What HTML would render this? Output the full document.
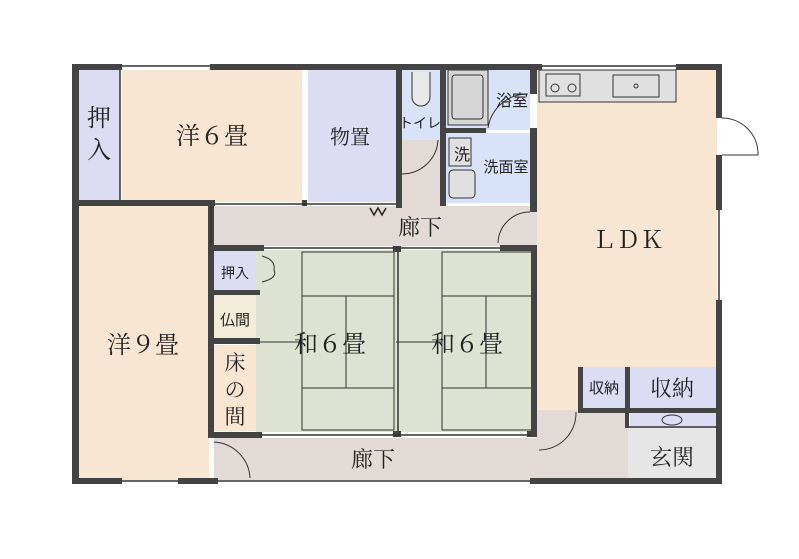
<!DOCTYPE html>
<html><head><meta charset="utf-8"><style>
html,body{margin:0;padding:0;background:#fff}
svg{display:block}
text{font-family:"Liberation Serif","Noto Serif CJK SC",serif;fill:#222}
.s{font-family:"Liberation Sans","Noto Sans CJK JP",sans-serif}
</style></head><body>
<svg width="799" height="559" viewBox="0 0 799 559" xmlns="http://www.w3.org/2000/svg">
<rect width="799" height="559" fill="#fff"/>
<!-- fills -->
<rect x="78" y="70" width="42" height="132" fill="#dcdcf4"/>
<rect x="122" y="70" width="180" height="132" fill="#f9e6d2"/>
<rect x="308" y="70" width="88" height="132" fill="#dcdcf4"/>
<rect x="402" y="70" width="38" height="70" fill="#d8e2f8"/>
<rect x="402" y="140" width="38" height="66" fill="#e2dad6"/>
<rect x="446" y="70" width="84" height="60" fill="#d8e2f8"/>
<rect x="446" y="133" width="84" height="70" fill="#d8e2f8"/>
<rect x="214" y="206" width="323" height="40" fill="#e2dad6"/>
<rect x="537" y="70" width="180" height="342" fill="#f9e6d2"/>
<rect x="78" y="206" width="131" height="274" fill="#f9e6d2"/>
<rect x="214" y="250" width="42" height="40" fill="#dcdcf4"/>
<rect x="214" y="295" width="42" height="45" fill="#f3ecd8"/>
<rect x="214" y="345" width="42" height="86" fill="#f9e6d2"/>
<rect x="256" y="250" width="281" height="182" fill="#dde2d2"/>
<rect x="214" y="438" width="414" height="42" fill="#e2dad6"/>
<rect x="537" y="410" width="92" height="30" fill="#e2dad6"/>
<rect x="583" y="367" width="44" height="42" fill="#dcdcf4"/>
<rect x="630" y="367" width="87" height="42" fill="#dcdcf4"/>
<rect x="630" y="412" width="87" height="16" fill="#dcdcf4"/>
<rect x="628" y="428" width="89" height="50" fill="#e6e6e6"/>
<!-- tatami lines -->
<g stroke="#333" stroke-width="1" fill="none">
<rect x="302" y="252" width="92" height="178"/>
<line x1="302" y1="296" x2="394" y2="296"/>
<line x1="302" y1="388" x2="394" y2="388"/>
<line x1="346" y1="296" x2="346" y2="388"/>
<line x1="256" y1="342" x2="302" y2="342"/>
<rect x="442" y="252" width="92" height="178"/>
<line x1="442" y1="296" x2="534" y2="296"/>
<line x1="442" y1="388" x2="534" y2="388"/>
<line x1="486" y1="296" x2="486" y2="388"/>
<line x1="396" y1="342" x2="442" y2="342"/>
</g>
<!-- fixtures -->
<g stroke="#333" stroke-width="1" fill="#ddd">
<rect x="539" y="70" width="137" height="32" fill="#e0e0e0"/>
<rect x="546" y="74" width="34" height="22" fill="#e0e0e0"/>
<circle cx="555" cy="88" r="4" fill="none"/><circle cx="572" cy="88" r="4" fill="none"/>
<rect x="613" y="75" width="46" height="22" fill="#e0e0e0"/>
<circle cx="636" cy="86" r="2" fill="none"/>
<rect x="448" y="70" width="40" height="55" fill="#d6d6d6"/>
<rect x="452" y="75" width="31" height="44" rx="3" fill="#d6d6d6"/>
<rect x="449" y="138" width="22" height="28" fill="#e0e0e0"/>
<rect x="449" y="170" width="26" height="28" rx="4" fill="#e0e0e0"/>
<path d="M412 72 v25 a9 9 0 0 0 18 0 v-25" fill="#e8e8e8"/>
</g>
<!-- door arcs -->
<g stroke="#333" stroke-width="1" fill="none">
<path d="M402 174 A36 36 0 0 0 438 140"/>
<path d="M498 243 A32 32 0 0 1 530 212"/>
<path d="M722 118 A36 36 0 0 1 758 155 H722"/>
<path d="M214 442 A38 38 0 0 1 250 478"/>
<path d="M539 450 A37 37 0 0 0 576 412"/>
<path d="M488 128 A40 40 0 0 1 528 94"/>
<path d="M262 256 q14 4 12 14 q4 8 -12 12"/>
<ellipse cx="672" cy="420" rx="10" ry="5"/>
</g>
<!-- walls -->
<g fill="#444">
<rect x="72" y="64" width="7" height="420"/>
<rect x="72" y="64" width="50" height="6"/>
<rect x="210" y="64" width="92" height="6"/>
<rect x="302" y="64" width="240" height="6"/>
<rect x="676" y="64" width="46" height="6"/>
<rect x="716" y="64" width="6" height="54"/>
<rect x="716" y="155" width="6" height="55"/>
<rect x="716" y="300" width="6" height="128"/>
<rect x="716" y="428" width="6" height="56"/>
<rect x="72" y="478" width="50" height="6"/>
<rect x="178" y="478" width="40" height="6"/>
<rect x="530" y="478" width="192" height="6"/>
<rect x="72" y="200" width="143" height="6"/>
<rect x="302" y="200" width="5" height="6"/>
<rect x="396" y="64" width="6" height="144"/>
<rect x="440" y="64" width="6" height="142"/>
<rect x="446" y="128" width="40" height="5"/>
<rect x="530" y="64" width="7" height="30"/>
<rect x="530" y="128" width="7" height="78"/>
<rect x="530" y="206" width="7" height="6"/>
<rect x="208" y="206" width="6" height="40"/>
<rect x="208" y="246" width="6" height="192"/>
<rect x="214" y="245" width="50" height="6"/>
<rect x="500" y="245" width="37" height="6"/>
<rect x="531" y="245" width="6" height="190"/>
<rect x="393" y="246" width="8" height="6"/>
<rect x="214" y="290" width="46" height="5"/>
<rect x="214" y="338" width="46" height="6"/>
<rect x="208" y="432" width="54" height="6"/>
<rect x="393" y="431" width="8" height="6"/>
<rect x="527" y="431" width="10" height="6"/>
<rect x="578" y="367" width="5" height="45"/>
<rect x="625" y="367" width="5" height="45"/>
<rect x="578" y="408" width="144" height="5"/>
<rect x="625" y="412" width="4" height="16"/>
</g>
<g stroke="#333" stroke-width="1.5">
<line x1="122" y1="66" x2="210" y2="66"/><line x1="542" y1="66" x2="676" y2="66"/>
<line x1="122" y1="481" x2="178" y2="481"/><line x1="218" y1="481" x2="530" y2="481"/>
<line x1="120" y1="70" x2="120" y2="200"/>
<line x1="719" y1="210" x2="719" y2="300"/>
<line x1="214" y1="204" x2="396" y2="204"/>
<line x1="264" y1="248" x2="500" y2="248"/>
<line x1="260" y1="435" x2="531" y2="435"/>
<line x1="398" y1="250" x2="398" y2="432"/>
<line x1="629" y1="427" x2="717" y2="427"/>
<line x1="211" y1="206" x2="211" y2="246"/>
</g>
<path d="M370 208 l4 7 l4 -7 l4 7 l4 -7" stroke="#222" fill="none" stroke-width="1.5"/>
<!-- labels -->
<text x="99" y="126" font-size="24" text-anchor="middle">押</text>
<text x="99" y="158" font-size="24" text-anchor="middle">入</text>
<text x="212" y="144" font-size="24" text-anchor="middle">洋６畳</text>
<text x="350" y="144" font-size="20" text-anchor="middle">物置</text>
<text x="420" y="128" font-size="14" text-anchor="middle" class="s">トイレ</text>
<text x="512" y="106" font-size="16" text-anchor="middle" class="s">浴室</text>
<text x="462" y="160" font-size="16" text-anchor="middle" class="s">洗</text>
<text x="506" y="172" font-size="15" text-anchor="middle" class="s">洗面室</text>
<text x="420" y="235" font-size="22" text-anchor="middle">廊下</text>
<text x="628" y="248" font-size="24" text-anchor="middle">ＬＤＫ</text>
<text x="143" y="353" font-size="24" text-anchor="middle">洋９畳</text>
<text x="235" y="278" font-size="14" text-anchor="middle" class="s">押入</text>
<text x="235" y="325" font-size="15" text-anchor="middle" class="s">仏間</text>
<text x="235" y="370" font-size="21" text-anchor="middle">床</text>
<text x="235" y="397" font-size="21" text-anchor="middle">の</text>
<text x="235" y="424" font-size="21" text-anchor="middle">間</text>
<text x="330" y="352" font-size="24" text-anchor="middle">和６畳</text>
<text x="467" y="352" font-size="24" text-anchor="middle">和６畳</text>
<text x="604" y="393" font-size="15" text-anchor="middle" class="s">収納</text>
<text x="672" y="396" font-size="22" text-anchor="middle">収納</text>
<text x="373" y="467" font-size="22" text-anchor="middle">廊下</text>
<text x="672" y="465" font-size="22" text-anchor="middle">玄関</text>
</svg>
</body></html>
